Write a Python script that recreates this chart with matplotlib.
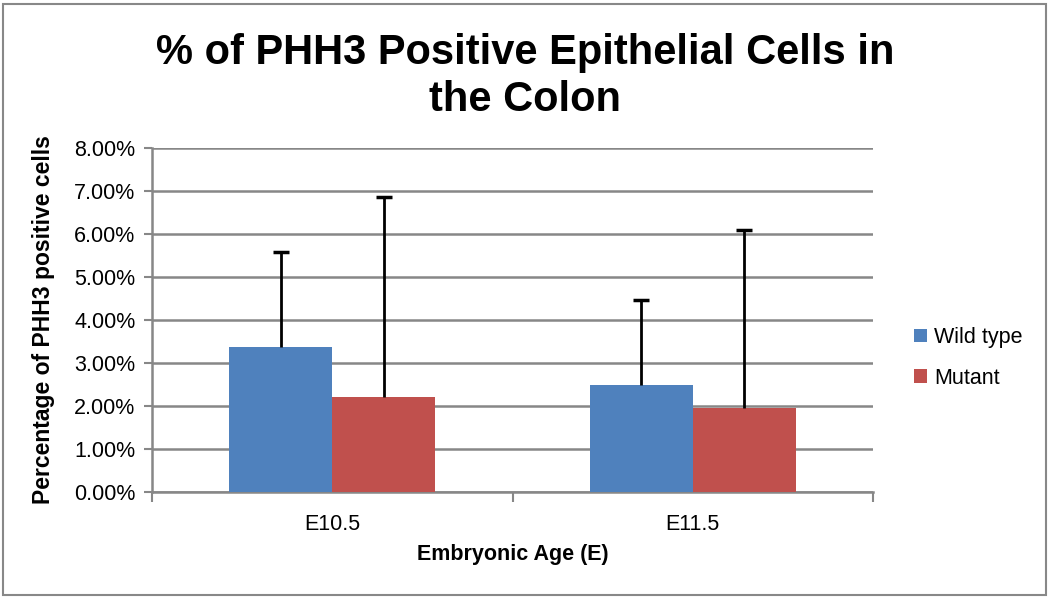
import matplotlib
matplotlib.use("Agg")
import matplotlib.pyplot as plt
from matplotlib.patches import Rectangle
from matplotlib.ticker import FuncFormatter, MultipleLocator

categories = ["E10.5", "E11.5"]
series_names = ["Wild type", "Mutant"]
wild_type = [3.38, 2.48]
mutant = [2.20, 1.95]
wild_type_err = [2.19, 1.98]
mutant_err = [4.67, 4.14]

colors = ["#4F81BD", "#C0504D"]
grid_color = "#878787"
font = "Liberation Sans"

fig = plt.figure(figsize=(10.5, 5.98), dpi=100)
ax = fig.add_axes([152/1050, 1 - 492/598, (873-152)/1050, (492-148)/598])

w = 0.286
x = list(range(len(categories)))
for k, (vals, errs) in enumerate([(wild_type, wild_type_err), (mutant, mutant_err)]):
    pos = [i + (k - 0.5) * w for i in x]
    ax.bar(pos, vals, w, color=colors[k], label=series_names[k], zorder=3)
    tops = [v + e for v, e in zip(vals, errs)]
    ax.vlines(pos, vals, tops, color="black", linewidth=2, zorder=4)
    ax.plot(pos, tops, linestyle="none", marker="_", markersize=11, markeredgewidth=2.5,
            color="black", zorder=4)

ax.set_xlim(-0.5, 1.5)
ax.set_ylim(0, 8)
ax.yaxis.set_major_locator(MultipleLocator(1))
ax.yaxis.set_major_formatter(FuncFormatter(lambda v, p: f"{v:.2f}%"))
ax.set_xticks([-0.5, 0.5, 1.5])
ax.set_xticklabels([])
ax.set_xticks(x, minor=True)
ax.set_xticklabels(categories, minor=True)
ax.tick_params(axis="x", which="minor", length=0, pad=16, labelsize=15.5)
ax.tick_params(axis="x", which="major", length=7, width=1.5, color=grid_color, direction="out")
ax.tick_params(axis="y", length=6, width=1.5, color=grid_color, direction="out", labelsize=15.5, pad=6)
for lab in ax.get_xticklabels(minor=True) + ax.get_yticklabels():
    lab.set_fontfamily(font)

ax.grid(axis="y", color=grid_color, linewidth=1.8, zorder=0)
ax.set_axisbelow(True)
for s in ["top", "right"]:
    ax.spines[s].set_visible(False)
for s in ["left", "bottom"]:
    ax.spines[s].set_color(grid_color)
    ax.spines[s].set_linewidth(1.8)

ax.set_ylabel("Percentage of PHH3 positive cells", fontfamily=font, fontweight="bold", fontsize=16.5, labelpad=14)
ax.set_xlabel("Embryonic Age (E)", fontfamily=font, fontweight="bold", fontsize=15.5, labelpad=6)

fig.suptitle("% of PHH3 Positive Epithelial Cells in\nthe Colon", fontfamily=font, fontweight="bold",
             fontsize=30, y=0.945, linespacing=1.22)

leg = ax.legend(loc="center left", bbox_to_anchor=(1.03, 0.39), frameon=False,
                prop=dict(family=font, size=15.5), handlelength=0.6, handleheight=0.6,
                handletextpad=0.35, labelspacing=0.9)

fig.patches.append(Rectangle((3/1050, 3/598), 1 - 7/1050, 1 - 7/598, transform=fig.transFigure,
                             fill=False, edgecolor="#888888", linewidth=1.5))

fig.savefig("out.png", dpi=100)
